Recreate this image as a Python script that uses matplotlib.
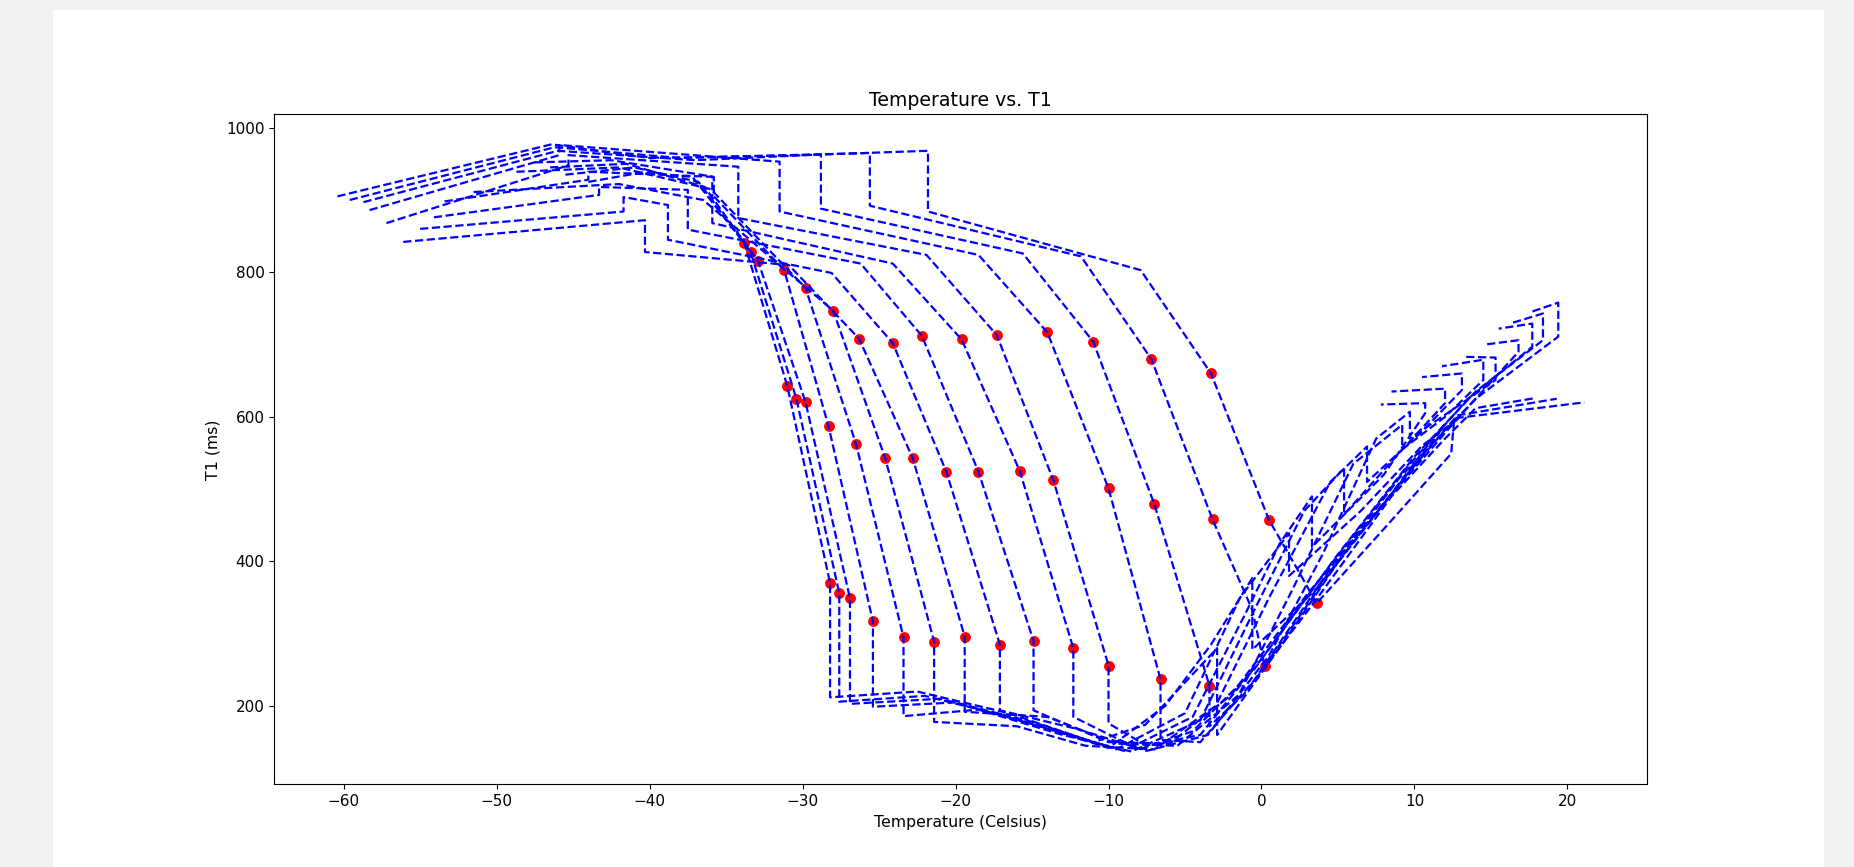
import matplotlib
matplotlib.use("Agg")
from matplotlib import pyplot as plt
from matplotlib.patches import Rectangle

# dashed paths, one per sample: temperature (Celsius) and T1 (ms)
temp_00 = [-44.0, -40.5, -37.2, -33.8, -31.0, -28.2, -28.2, -22.5, -16.5, -11.0, -7.6, -2.9, -2.9, 1.5, 6.0, 10.5, 12.0]
t1_00 = [925, 938, 932, 840, 643, 370, 212, 220, 190, 150, 174, 280, 160, 290, 430, 545, 590]

temp_01 = [-45.5, -41.0, -36.8, -33.4, -30.4, -27.6, -27.6, -22.0, -16.0, -10.0, -6.3, -3.3, -0.6, -0.6, 3.5, 8.0, 11.2]
t1_01 = [935, 945, 925, 828, 625, 356, 206, 214, 182, 142, 200, 285, 377, 278, 360, 480, 570]

temp_02 = [-46.5, -41.5, -36.4, -32.9, -29.8, -26.9, -26.9, -21.0, -15.0, -9.5, -5.0, -1.4, 1.8, 1.8, 6.5, 10.5, 13.0]
t1_02 = [945, 950, 918, 815, 620, 349, 203, 210, 178, 140, 190, 350, 439, 380, 470, 560, 600]

temp_03 = [-47.5, -42.5, -35.8, -35.8, -31.2, -28.3, -25.4, -25.4, -20.0, -14.5, -9.0, -4.5, -1.0, 1.2, 3.3, 3.3, 8.0, 10.7, 10.7, 7.8]
t1_03 = [952, 955, 932, 905, 803, 587, 317, 199, 205, 172, 138, 185, 330, 425, 490, 420, 520, 605, 619, 617]

temp_04 = [-48.7, -42.0, -36.0, -29.8, -26.5, -23.4, -23.4, -18.5, -13.0, -8.5, -4.0, -0.3, 2.8, 5.4, 5.4, 9.0, 12.0, 12.0, 8.5]
t1_04 = [939, 945, 915, 778, 562, 295, 186, 195, 160, 137, 180, 340, 470, 529, 465, 550, 619, 639, 635]

temp_05 = [-51.5, -42.0, -36.5, -28.0, -24.6, -21.4, -21.4, -16.0, -11.5, -7.0, -3.0, 0.5, 4.5, 6.9, 6.9, 10.5, 13.1, 13.1, 10.5]
t1_05 = [911, 922, 900, 747, 543, 289, 178, 172, 145, 140, 200, 350, 510, 559, 510, 580, 637, 660, 655]

temp_06 = [-56.1, -40.3, -40.3, -30.9, -26.3, -22.8, -19.4, -19.4, -14.0, -9.5, -5.5, -1.5, 2.0, 6.0, 9.2, 9.2, 12.0, 14.5, 14.5, 11.8]
t1_06 = [842, 872, 828, 810, 708, 543, 296, 192, 185, 148, 145, 215, 360, 535, 589, 555, 600, 651, 679, 670]

temp_07 = [-55.0, -41.7, -41.7, -38.8, -38.8, -28.1, -24.1, -20.6, -17.1, -17.1, -12.0, -7.5, -3.5, 0.5, 4.0, 7.5, 9.7, 9.7, 12.5, 15.3, 15.3, 13.3]
t1_07 = [860, 884, 904, 893, 845, 799, 702, 524, 285, 194, 168, 138, 160, 270, 410, 570, 607, 570, 610, 651, 682, 683]

temp_08 = [-54.1, -43.3, -43.3, -37.5, -37.5, -26.2, -22.2, -18.5, -14.9, -14.9, -10.0, -6.0, -2.0, 3.0, 8.0, 12.5, 16.8, 16.8, 14.6]
t1_08 = [876, 907, 918, 914, 859, 812, 712, 524, 290, 194, 150, 148, 215, 355, 480, 590, 690, 706, 700]

temp_09 = [-53.4, -44.0, -44.0, -35.9, -35.9, -24.1, -19.6, -15.8, -12.3, -12.3, -8.0, -4.5, -0.5, 4.5, 9.5, 13.5, 17.7, 17.7, 15.5]
t1_09 = [898, 928, 939, 932, 868, 812, 707, 525, 280, 185, 140, 165, 250, 395, 530, 625, 697, 729, 722]

temp_10 = [-57.2, -45.3, -45.3, -34.2, -34.2, -21.9, -17.3, -13.6, -10.0, -10.0, -7.5, -4.0, 0.0, 5.0, 10.0, 14.0, 18.4, 18.4, 16.4]
t1_10 = [868, 948, 962, 946, 875, 824, 713, 512, 256, 176, 145, 160, 265, 410, 545, 635, 706, 743, 730]

temp_11 = [-58.3, -45.9, -45.9, -31.5, -31.5, -18.5, -14.0, -10.0, -6.6, -6.6, -4.0, -0.5, 4.5, 9.0, 14.0, 19.4, 19.4, 17.6]
t1_11 = [886, 962, 976, 953, 884, 824, 717, 501, 237, 153, 150, 235, 390, 515, 625, 711, 758, 745]

temp_12 = [-58.7, -46.0, -37.0, -28.8, -28.8, -15.6, -11.0, -7.0, -3.4, -3.4, -1.2, 3.5, 8.5, 12.0, 14.0, 17.9]
t1_12 = [897, 968, 955, 963, 888, 826, 704, 479, 228, 172, 215, 345, 490, 570, 612, 626]

temp_13 = [-59.6, -46.2, -38.0, -25.6, -25.6, -11.8, -7.2, -3.2, -0.6, 0.2, 4.5, 9.5, 12.8, 19.3]
t1_13 = [900, 973, 958, 965, 892, 822, 680, 458, 333, 255, 385, 520, 602, 625]

temp_14 = [-60.4, -46.4, -40.0, -30.0, -21.8, -21.8, -7.9, -3.3, 0.5, 2.6, 3.6, 8.0, 12.4, 12.6, 21.1]
t1_14 = [905, 977, 958, 962, 968, 884, 803, 660, 457, 380, 342, 445, 549, 598, 620]

# red markers: three measurement points per sample
red_temp = [-33.8, -33.4, -32.9, -31.2, -29.8, -28.0, -26.3, -24.1, -22.2, -19.6, -17.3, -14.0, -11.0, -7.2, -3.3,
            -31.0, -30.4, -29.8, -28.3, -26.5, -24.6, -22.8, -20.6, -18.5, -15.8, -13.6, -10.0, -7.0, -3.2, 0.5,
            -28.2, -27.6, -26.9, -25.4, -23.4, -21.4, -19.4, -17.1, -14.9, -12.3, -10.0, -6.6, -3.4, 0.2, 3.6]
red_t1 = [840, 828, 815, 803, 778, 747, 708, 702, 712, 707, 713, 717, 704, 680, 660,
          643, 625, 620, 587, 562, 543, 543, 524, 524, 525, 512, 501, 479, 458, 457,
          370, 356, 349, 317, 295, 289, 296, 285, 290, 280, 256, 237, 228, 255, 342]

paths = [
    (temp_00, t1_00), (temp_01, t1_01), (temp_02, t1_02), (temp_03, t1_03), (temp_04, t1_04),
    (temp_05, t1_05), (temp_06, t1_06), (temp_07, t1_07), (temp_08, t1_08), (temp_09, t1_09),
    (temp_10, t1_10), (temp_11, t1_11), (temp_12, t1_12), (temp_13, t1_13), (temp_14, t1_14),
]

W, H = 1854, 867
fig = plt.figure(figsize=(W / 100, H / 100), dpi=100, facecolor='#f2f2f2')
# white page area behind the plot
fig.patches.append(Rectangle((53 / W, 0), (1824 - 53) / W, (H - 10) / H,
                             transform=fig.transFigure, facecolor='white', edgecolor='none', zorder=-1))

ax = fig.add_axes([274.3 / W, (H - 784.3) / H, (1647 - 274.3) / W, (784.3 - 114.3) / H])
ax.set_zorder(1)

ax.scatter(red_temp, red_t1, color='red', s=46)
for x, y in paths:
    ax.plot(x, y, 'b--', linewidth=1.6)

ax.set_xlim(-64.53, 25.2)
ax.set_ylim(91.7, 1018.5)
ax.set_xticks(range(-60, 21, 10))
ax.set_yticks(range(200, 1001, 200))
ax.tick_params(labelsize=11)
ax.set_xlabel('Temperature (Celsius)', fontsize=11.3)
ax.set_ylabel('T1 (ms)', fontsize=11.3)
ax.set_title('Temperature vs. T1', fontsize=13.6)

fig.savefig('out.png', dpi=100, facecolor=fig.get_facecolor())
